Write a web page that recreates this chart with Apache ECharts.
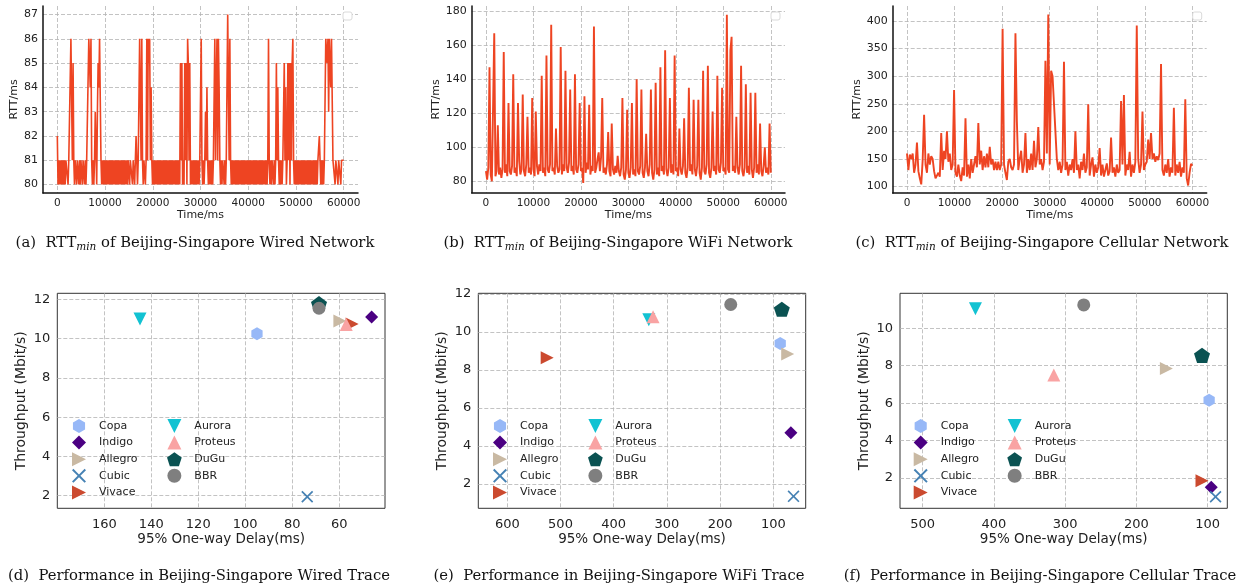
<!DOCTYPE html>
<html><head><meta charset="utf-8">
<script src="https://cdn.jsdelivr.net/npm/echarts@6/dist/echarts.min.js"></script>
<style>html,body{margin:0;padding:0;background:#fff}#c{width:1245px;height:588px}</style>
</head><body><div id="c"></div><script>
// ---------- data ----------
const wiredStepMs = 150;
const wiredRtt = [
82,80,
81,80,81,80,81,80,81,80,81,80,
81,81,81,80,81,81,81,
86,86,81,85,81,
80,81,81,80,81,81,80,81,80,81,81,80,81,81,80,81,80,81,81,
81,86,86,84,86,81,80,81,
80,81,83,83,80,83,85,84,86,86,81,
80,81,80,81,80,81,80,81,80,81,80,81,80,81,80,81,80,81,80,81,80,81,80,81,80,81,80,81,80,81,80,81,80,81,80,81,80,
81,81,80,81,81,81,80,81,81,80,81,
82,81,80,81,
81,86,86,81,86,81,80,81,81,80,
81,86,81,86,85,86,81,84,81,80,
81,80,81,80,81,80,81,80,81,80,81,80,81,80,81,80,81,80,81,80,81,80,81,80,81,80,81,80,81,80,81,80,81,80,81,80,81,80,
85,81,85,80,81,80,85,81,85,80,86,85,81,85,80,81,
80,81,80,81,80,81,80,81,80,81,80,81,81,
86,81,80,81,80,81,83,81,84,81,80,
81,80,81,80,81,80,81,81,
86,81,84,86,81,86,84,81,
80,81,80,81,81,80,81,80,81,81,
87,87,81,86,81,
80,81,80,81,80,81,80,81,80,81,80,81,80,81,80,81,80,81,80,81,80,81,80,81,80,81,80,81,80,81,80,81,80,81,80,81,80,81,80,81,80,81,80,81,80,81,80,81,80,81,80,
81,86,81,
80,81,80,81,81,80,81,80,
81,85,81,84,81,
80,81,80,81,80,81,
81,85,81,84,80,81,85,81,85,80,85,81,85,86,81,
80,81,80,81,80,81,80,81,80,81,80,81,80,81,80,81,80,81,80,81,80,81,80,81,80,81,80,81,80,81,80,81,80,81,
81,82,81,
80,81,80,81,80,81,
81,86,86,85,86,83,86,86,84,86,86,81,
81,81,80,81,81,81,80,81,81,81,80,81,81,81,81];
const wifiStepMs = 250;
const wifiRtt = [
86,81,88,147,84,80,79,167,83,86,
113,84,88,82,87,156,85,90,83,126,
86,84,89,143,85,88,83,126,92,84,
87,131,86,83,90,118,85,88,84,129,
87,83,121,89,84,90,86,142,85,88,
83,154,87,85,90,172,86,88,84,111,
89,85,87,159,84,90,86,145,88,85,
91,134,86,89,84,143,87,85,90,126,
86,88,79,130,85,91,87,125,84,89,
86,171,85,88,93,97,86,94,129,85,
88,84,90,109,86,83,114,87,84,89,
85,95,86,83,88,129,84,81,87,122,
85,82,88,126,84,87,83,140,86,84,
89,134,85,82,88,108,86,83,90,134,
85,81,87,138,84,88,83,147,86,89,
84,157,87,83,88,129,85,90,84,154,
86,88,83,111,87,84,89,117,85,82,
88,135,86,90,84,128,87,83,89,128,
85,81,88,145,86,84,90,148,85,82,
88,121,86,89,84,142,87,85,91,135,
86,88,84,178,87,85,157,165,86,89,
85,118,88,84,90,148,86,83,88,137,
85,89,84,132,87,82,88,132,85,90,
84,114,86,83,89,100,85,88,84,114,
85];
const cellStepMs = 300;
const cellRtt = [
160,130,158,150,160,125,140,180,128,115,
104,148,230,140,125,160,140,155,150,128,
115,112,125,118,197,130,165,150,200,145,
160,130,140,275,125,118,140,120,110,135,
120,224,118,140,115,150,125,140,155,135,
215,140,165,130,155,135,160,135,172,140,
150,130,145,130,145,130,140,386,140,125,
112,145,150,135,130,140,378,218,130,150,
165,125,140,197,125,150,130,160,130,183,
135,150,208,140,150,130,145,328,160,412,
140,310,300,250,200,150,130,145,125,140,
326,130,145,120,140,130,150,125,200,130,
140,115,145,130,160,125,135,249,120,140,
153,118,140,125,135,170,120,140,118,130,
142,120,128,189,125,135,118,140,125,130,
255,140,266,120,140,130,163,118,140,125,
145,392,150,125,140,236,130,140,145,185,
150,197,150,160,145,155,148,160,322,130,
120,140,125,150,118,135,125,243,120,140,
125,145,118,135,125,258,115,102,125,141,
138];
const timeTicks = [0,10000,20000,30000,40000,50000,60000];
const wiredRttTicks = [80,81,82,83,84,85,86,87];
const wifiRttTicks = [80,100,120,140,160,180];
const cellRttTicks = [100,150,200,250,300,350,400];

const schemes = ['Copa','Indigo','Allegro','Cubic','Vivace','Aurora','Proteus','DuGu','BBR'];
const wiredDelay = [95, 46.2, 59.7, 73.6, 54.5, 144.8, 57, 68.6, 68.6];
const wiredTput  = [10.25, 11.1, 10.9, 1.95, 10.75, 11.0, 10.72, 11.78, 11.55];
const wifiDelay  = [87, 67, 73, 62, 525, 334, 326, 84, 180];
const wifiTput   = [9.4, 4.7, 8.85, 1.35, 8.65, 10.65, 10.8, 11.2, 11.45];
const cellDelay  = [98, 95, 158, 89, 108, 426, 316, 108, 274];
const cellTput   = [6.15, 1.5, 7.85, 1.0, 1.85, 11.05, 7.5, 8.55, 11.25];
const wiredDelayTicks = [60,80,100,120,140,160];
const wifiDelayTicks = [100,200,300,400,500,600];
const cellDelayTicks = [100,200,300,400,500];
const tputTicks = [2,4,6,8,10,12];
const cellTputTicks = [2,4,6,8,10];

// ---------- style ----------
const F = 'DejaVu Sans';
const SERIF = 'DejaVu Serif';
const LINE = '#ee4422';
const TXT = '#222';
const SYM = [
  'path://M5,0L9.33,2.5L9.33,7.5L5,10L0.67,7.5L0.67,2.5Z',
  'path://M5,0L10,5L5,10L0,5Z',
  'path://M0,0L10,5L0,10Z',
  'path://M0,1L1,0L5,4L9,0L10,1L6,5L10,9L9,10L5,6L1,10L0,9L4,5Z',
  'path://M0,0L10,5L0,10Z',
  'path://M0,0L10,0L5,10Z',
  'path://M5,0L10,10L0,10Z',
  'path://M5,0L9.76,3.45L7.94,9.05L2.06,9.05L0.24,3.45Z',
  'circle'
];
const SIZE = [13, 13, 13, 12, 13, 13, 13, 16, 13];
const COL = ['#97b8f7','#4b0082','#c9b9a3','#4682b4','#cb4a2f','#12c2d2','#f9a3a3','#0a5252','#7f7f7f'];
const GRIDLINE = {show:true, lineStyle:{color:'#b4b4b4', type:[4,2], width:0.8}};

function topX(gi){
  return {type:'value', gridIndex:gi, min:-3000, max:63000, name:'Time/ms', nameLocation:'middle', nameGap:16,
    nameTextStyle:{fontFamily:F,fontSize:11,color:TXT},
    axisLine:{show:true,onZero:false,lineStyle:{color:'#111',width:1.5}},
    axisTick:{show:false,customValues:timeTicks},
    axisLabel:{customValues:timeTicks, formatter:v=>String(v), fontFamily:F, fontSize:10.5, color:TXT, margin:5},
    splitLine:GRIDLINE};
}
function topY(gi,min,max,ticks,gap){
  return {type:'value', gridIndex:gi, min:min, max:max, name:'RTT/ms', nameLocation:'middle', nameGap:gap,
    nameTextStyle:{fontFamily:F,fontSize:11,color:TXT},
    axisLine:{show:true,onZero:false,lineStyle:{color:'#111',width:1.5}},
    axisTick:{show:false,customValues:ticks},
    axisLabel:{customValues:ticks, formatter:v=>String(v), fontFamily:F, fontSize:11, color:TXT, margin:5},
    splitLine:GRIDLINE};
}
function botX(gi,min,max,ticks){
  return {type:'value', gridIndex:gi, inverse:true, min:min, max:max, name:'95% One-way Delay(ms)', nameLocation:'middle', nameGap:23,
    nameTextStyle:{fontFamily:F,fontSize:13.5,color:TXT},
    axisLine:{show:false,onZero:false},
    axisTick:{show:false,customValues:ticks},
    axisLabel:{customValues:ticks, formatter:v=>String(v), fontFamily:F, fontSize:13, color:TXT, margin:10},
    splitLine:GRIDLINE};
}
function botY(gi,min,max,ticks){
  return {type:'value', gridIndex:gi, min:min, max:max, name:'Throughput (Mbit/s)', nameLocation:'middle', nameGap:29,
    nameTextStyle:{fontFamily:F,fontSize:14,color:TXT},
    axisLine:{show:false,onZero:false},
    axisTick:{show:false,customValues:ticks},
    axisLabel:{customValues:ticks, formatter:v=>String(v), fontFamily:F, fontSize:13, color:TXT, margin:7},
    splitLine:GRIDLINE};
}
function lineSeries(gi, vals, step, w){
  return {type:'line', xAxisIndex:gi, yAxisIndex:gi, data: vals.map((v,i)=>[i*step, v]),
    symbol:'none', showSymbol:false, silent:true, animation:false,
    lineStyle:{color:LINE, width:w}, itemStyle:{color:LINE}};
}
function scatterSeries(gi, delay, tput){
  return schemes.map((s,j)=>({type:'scatter', name:s, xAxisIndex:gi, yAxisIndex:gi,
    data:[[delay[j], tput[j]]], symbol:SYM[j], symbolSize:SIZE[j], symbolKeepAspect:true,
    itemStyle:{color:COL[j], opacity:1}, silent:true, animation:false}));
}
function legendPair(leftA, leftB){
  const base = {orient:'vertical', top:419, padding:0, itemWidth:30, itemHeight:14, itemGap:2.6,
    selectedMode:false, textStyle:{fontFamily:F,fontSize:11,color:TXT}};
  return [Object.assign({}, base, {left:leftA, data:schemes.slice(0,5)}),
          Object.assign({}, base, {left:leftB, data:schemes.slice(5)})];
}
function caption(x, y, label, pre, sub, post){
  const txt = sub ? '{n|'+label+'  '+pre+'}{s|'+sub+'}{n|'+post+'}' : '{n|'+label+'  '+pre+'}';
  return {type:'text', x:x, y:y, z:10, style:{text:txt, align:'center', verticalAlign:'middle',
    rich:{n:{fontFamily:SERIF, fontSize:14.8, fill:'#111', lineHeight:20},
          s:{fontFamily:SERIF, fontSize:10.5, fontStyle:'italic', fill:'#111', lineHeight:11, verticalAlign:'bottom'}}}};
}
function emptyBox(x){
  return {type:'rect', z:10, shape:{x:x, y:12, width:9, height:8, r:2}, style:{fill:'#fff', stroke:'#dadada', lineWidth:1}};
}

const chart = echarts.init(document.getElementById('c'), null, {renderer:'canvas'});
chart.setOption({
  animation:false,
  backgroundColor:'#fff',
  grid:[
    {left:43, top:6, width:315, height:187, outerBoundsMode:'none'},
    {left:471.7, top:6, width:313.3, height:186.7, outerBoundsMode:'none'},
    {left:892.7, top:6, width:314, height:187, outerBoundsMode:'none'},
    {left:57.3, top:293.3, width:327.7, height:215, show:true, borderColor:'#333', borderWidth:1, outerBoundsMode:'none'},
    {left:478.3, top:293.3, width:327.4, height:215, show:true, borderColor:'#333', borderWidth:1, outerBoundsMode:'none'},
    {left:900, top:293.3, width:327.3, height:215, show:true, borderColor:'#333', borderWidth:1, outerBoundsMode:'none'}
  ],
  xAxis:[topX(0), topX(1), topX(2),
    botX(3, 40.5, 180, wiredDelayTicks), botX(4, 39.1, 654.5, wifiDelayTicks), botX(5, 72.5, 531.9, cellDelayTicks)],
  yAxis:[topY(0, 79.65, 87.35, wiredRttTicks, 14), topY(1, 73.3, 183.1, wifiRttTicks, 23), topY(2, 88.4, 427.2, cellRttTicks, 23),
    botY(3, 1.36, 12.31, tputTicks), botY(4, 0.72, 12.04, tputTicks), botY(5, 0.38, 11.87, cellTputTicks)],
  legend:[].concat(legendPair(72,167), legendPair(493,588), legendPair(913.7,1007.3)),
  series:[lineSeries(0, wiredRtt, wiredStepMs, 1.6), lineSeries(1, wifiRtt, wifiStepMs, 1.9), lineSeries(2, cellRtt, cellStepMs, 1.9)]
    .concat(scatterSeries(3, wiredDelay, wiredTput), scatterSeries(4, wifiDelay, wifiTput), scatterSeries(5, cellDelay, cellTput)),
  graphic:[
    emptyBox(343), emptyBox(771), emptyBox(1192.7),
    caption(195, 243, '(a)', 'RTT', 'min', ' of Beijing-Singapore Wired Network'),
    caption(618, 243, '(b)', 'RTT', 'min', ' of Beijing-Singapore WiFi Network'),
    caption(1042, 243, '(c)', 'RTT', 'min', ' of Beijing-Singapore Cellular Network'),
    caption(199, 576, '(d)', 'Performance in Beijing-Singapore Wired Trace'),
    caption(619, 576, '(e)', 'Performance in Beijing-Singapore WiFi Trace'),
    caption(1040, 576, '(f)', 'Performance in Beijing-Singapore Cellular Trace')
  ]
});
</script></body></html>
